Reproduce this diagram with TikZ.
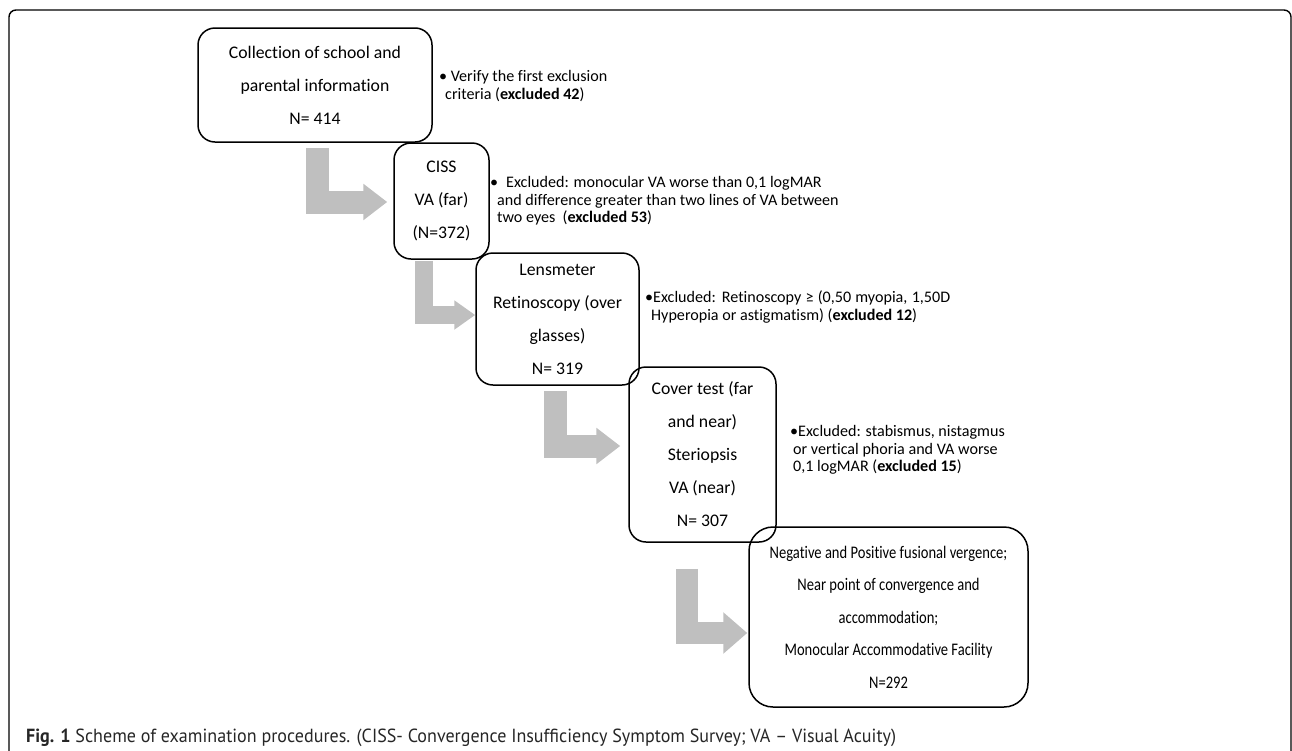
\documentclass[tikz,border=0pt]{standalone}
\usepackage{fontspec}
\setmainfont{Carlito}[Ligatures=NoCommon]
\newfontfamily\narrowfont{Carlito}[Ligatures=NoCommon, FakeStretch=0.823]
\newfontfamily\capfont{PT Sans}[FakeStretch=0.95]
\usetikzlibrary{arrows.meta}
\definecolor{arrowgray}{RGB}{191,191,191}
\begin{document}
\begin{tikzpicture}[x=1pt,y=-1pt,
  box/.style={draw, line width=1.5pt, rounded corners=17pt, align=center, inner sep=0pt,
    font=\fontsize{17.7}{33}\selectfont, execute at begin node={\rule{0pt}{19pt}}},
  note/.style={align=left, anchor=north west, inner sep=0pt,
    font=\fontsize{16.1}{17.7}\selectfont},
  blockarrow/.style args={#1/#2/#3}{draw=arrowgray, line width=#1pt, line join=miter,
    -{Triangle[length=#2pt, width=#3pt, fill=arrowgray, color=arrowgray]}}]
\useasboundingbox (0,0) rectangle (1292,750);
% outer frame
\draw[line width=1.4pt, rounded corners=7pt] (9,760) -- (9,10) -- (1291,10) -- (1291,760);

% boxes
\node[box, minimum width=234pt, minimum height=114pt] (b1) at (315,85)
  {Collection of school and\\parental information\\N= 414};
\node[box, minimum width=95pt, minimum height=116pt] (b2) at (441.5,201)
  {CISS\\VA (far)\\(N=372)};
\node[box, minimum width=163pt, minimum height=132pt] (b3) at (557.5,319)
  {Lensmeter\\Retinoscopy (over\\glasses)\\N= 319};
\node[box, minimum width=147pt, minimum height=175pt] (b4) at (702.5,454.5)
  {Cover test (far\\and near)\\Steriopsis\\VA (near)\\N= 307};
\node[box, rounded corners=24pt, minimum width=279pt, minimum height=180pt,
  font=\narrowfont\fontsize{17.7}{32.5}\selectfont] (b5) at (888.5,617)
  {Negative and Positive fusional vergence;\\Near point of convergence and\\accommodation;\\Monocular Accommodative Facility\\N=292};

% notes
\node[note] (n1) at (439,70)
  {• Verify the first exclusion\\\hspace*{6pt}criteria (\textbf{excluded 42})};
\node[note] (n2) at (490,176)
  {•\hspace{8pt}Excluded: monocular VA worse than 0,1 logMAR\\\hspace*{7pt}and difference greater than two lines of VA between\\\hspace*{7pt}two eyes\ \ (\textbf{excluded 53})};
\node[note] (n3) at (645,291)
  {\makebox[305pt][s]{•Excluded: Retinoscopy ≥ (0,50 myopia, 1,50D}\\\hspace*{6pt}Hyperopia or astigmatism) (\textbf{excluded 12})};
\node[note] (n4) at (790,425)
  {•Excluded: stabismus, nistagmus\\\hspace*{3pt}or vertical phoria and VA worse\\\hspace*{3pt}0,1 logMAR (\textbf{excluded 15})};

% block arrows
\draw[blockarrow=23/24/35] ([xshift=2.5pt,yshift=-5pt]b1.south) |- ([xshift=-6pt,yshift=-1pt]b2.west);
\draw[blockarrow=18/21/28] ([xshift=-17.5pt,yshift=-1pt]b2.south) |- ([yshift=4pt]b3.west);
\draw[blockarrow=23/24/35] ([xshift=-2pt,yshift=-5pt]b3.south) |- ([xshift=-8pt,yshift=8.5pt]b4.west);
\draw[blockarrow=22/24/40] ([xshift=-15.5pt,yshift=-26pt]b4.south) |- ([xshift=-1pt,yshift=-16pt]b5.west);

% caption
\node[anchor=base west, inner sep=0pt, text=black!85, font=\capfont\fontsize{19}{23}\selectfont] (cap) at (26,742)
  {\textbf{Fig. 1} Scheme of examination procedures. (CISS- Convergence Insufficiency Symptom Survey; VA – Visual Acuity)};
\end{tikzpicture}
\end{document}
